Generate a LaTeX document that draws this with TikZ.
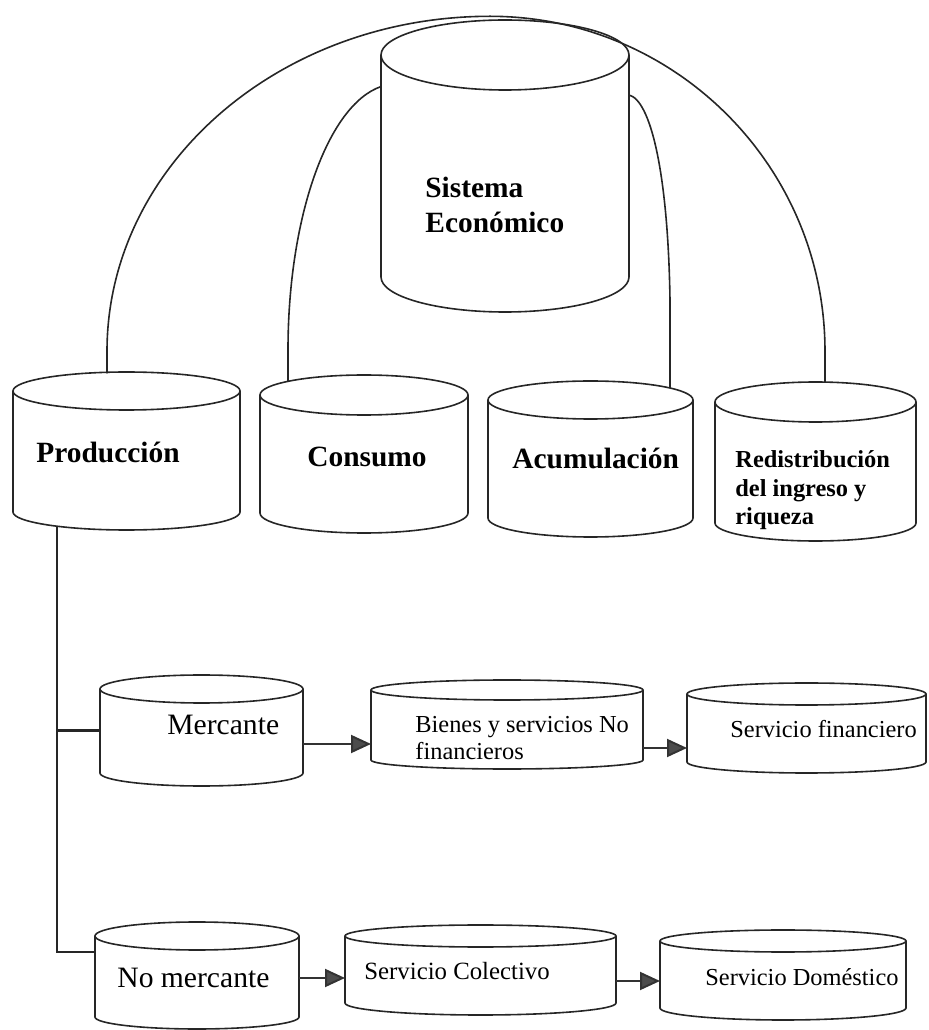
\documentclass[tikz,border=0pt]{standalone}
\usepackage{fontspec}
\setmainfont{Liberation Serif}
\usetikzlibrary{arrows.meta,calc}
\newcommand{\cylnode}[7]{%
  \node[cylbox, minimum width={#5*1pt}, minimum height={(#3+#6-#4+#7)*0.5pt}] (#1) at ({#2},{(#3+#6+#4-#7)/2}) {};
  \draw[cylline] ({#2-#5},#3) -- ({#2-#5},#4) arc[start angle=180,end angle=360,x radius=#5,y radius=#7] -- ({#2+#5},#3);
  \draw[cylline] (#2,#3) ellipse[x radius=#5, y radius=#6];
}
\begin{document}
\begin{tikzpicture}[x=0.5pt,y=0.5pt,
  cylbox/.style={rectangle, inner sep=0pt, outer sep=0pt, draw=none},
  cylline/.style={line width=0.8pt, draw=black!85},
  conn/.style={line width=0.8pt, draw=black!85},
  arr/.style={line width=1pt, draw=black!80, -{Triangle[length=10pt,width=9pt,fill=black!70]}},
  lblb/.style={inner sep=0pt, anchor=base west, align=left, font=\fontsize{14.7}{17.5}\selectfont\bfseries},
  lbls/.style={inner sep=0pt, anchor=base west, align=left, font=\fontsize{12.2}{14.25}\selectfont\bfseries},
  lblr/.style={inner sep=0pt, anchor=base west, align=left, font=\fontsize{14.8}{17}\selectfont},
  lblm/.style={inner sep=0pt, anchor=base west, align=left, font=\fontsize{12.2}{13.5}\selectfont}]
\useasboundingbox (0,0) rectangle (929,1030);

% cylinders
\cylnode{sis}{505}{975}{753}{124}{35}{35}
\cylnode{prod}{126.5}{639}{518}{113.5}{19}{18}
\cylnode{cons}{364}{635}{517}{104}{20}{20}
\cylnode{acum}{590.5}{630}{512}{102.5}{19}{19}
\cylnode{redis}{815.5}{628}{507}{100.5}{20}{18}
\cylnode{merc}{201.5}{341}{257}{101.5}{14}{13}
\cylnode{bienes}{507}{340}{270}{136}{10}{9}
\cylnode{sfin}{806.5}{336}{268}{119.5}{11}{11}
\cylnode{nomerc}{197}{94}{13}{102}{14}{12}
\cylnode{colect}{480.5}{94}{27}{135.5}{11}{12}
\cylnode{domes}{783}{89}{22}{123}{11}{12}

% texts (base anchor of a multi-line node = last line)
\node[lblb] (tsis) at (425,797) {Sistema\\Económico};
\node[lblb] (tprod) at (36,567) {Producción};
\node[lblb, anchor=base] (tcons) at (367,563) {Consumo};
\node[lblb] (tacum) at (512,561) {Acumulación};
\node[lbls] (tredis) at (735,505) {Redistribución\\del ingreso y\\riqueza};
\node[lblr] (tmerc) at (167,295) {Mercante};
\node[lblm] (tbienes) at (415,270) {Bienes y servicios No\\financieros};
\node[lblm] (tsfin) at (730,292) {Servicio financiero};
\node[lblr] (tnomerc) at (117,42) {No mercante};
\node[lblm, font=\fontsize{12.4}{14}\selectfont] (tcolect) at (364,50) {Servicio Colectivo};
\node[lblm] (tdomes) at (705,45) {Servicio Doméstico};

% arcs from the economic system
\draw[conn] ($(prod.north)+(-19.5,-1.3)$) -- ++(0,22)
  arc[start angle=180,end angle=90,x radius=383,y radius=335]
  arc[start angle=90,end angle=0,x radius=335,y radius=335]
  -- ($(redis.north)+(9.5,-0.2)$);
\draw[conn] ($(cons.north)+(-76,-6.3)$) -- ++(0,31.3)
  arc[start angle=180,end angle=98,x radius=108,y radius=266];
\draw[conn] ($(sis.east)+(0,71)$) .. controls ($(sis.east)+(21,66)$) and ($(sis.east)+(39,-4)$) .. ($(sis.east)+(41,-134)$)
  -- ($(acum.north)+(79.5,-7)$);

% tree from Produccion
\coordinate (trunk) at ($(prod.south)+(-69.5,3.8)$);
\draw[conn] (trunk) |- ($(nomerc.west)+(0,23.5)$);
\draw[conn, line width=1.6pt] (merc.west) -- (merc.west -| trunk);

% arrows
\coordinate (a1) at ($(merc.east)+(0,-13.5)$);
\draw[arr] (a1) -- (a1 -| bienes.west);
\coordinate (a2) at ($(bienes.east)+(0,-23.5)$);
\draw[arr] (a2) -- (a2 -| sfin.west);
\coordinate (a3) at ($(nomerc.east)+(0,-2.5)$);
\draw[arr] (a3) -- (a3 -| colect.west);
\coordinate (a4) at ($(colect.east)+(0,-11)$);
\draw[arr] (a4) -- (a4 -| domes.west);
\end{tikzpicture}
\end{document}
